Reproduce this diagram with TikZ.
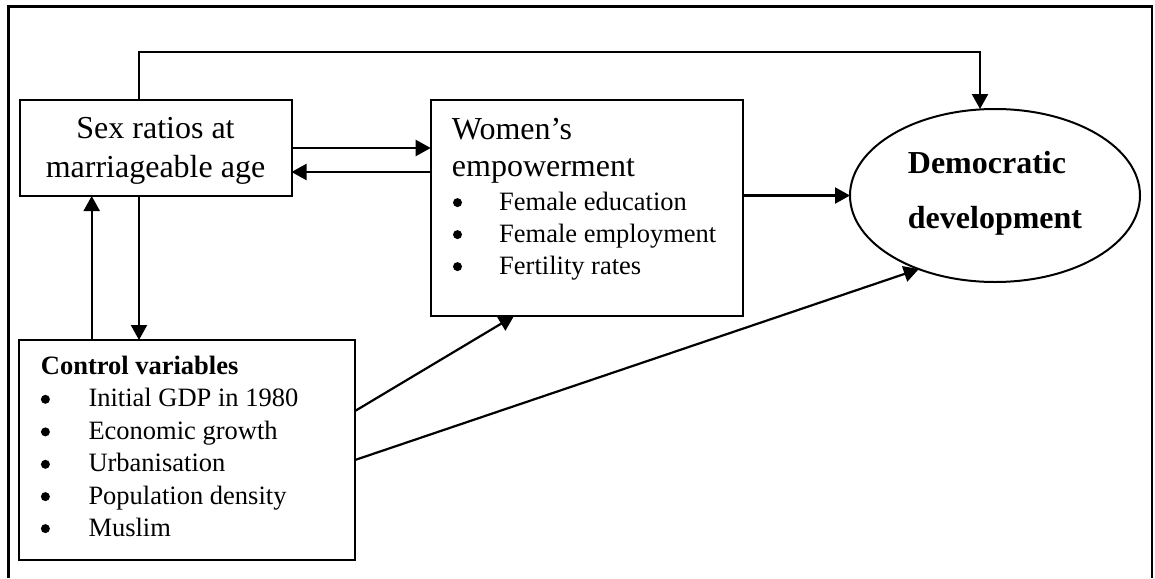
\documentclass[tikz,border=0pt]{standalone}
\usepackage{fontspec}
\setmainfont{Liberation Serif}
\usetikzlibrary{arrows.meta,shapes.geometric}

\begin{document}
\begin{tikzpicture}[x=1pt,y=-1pt,
   box/.style={draw,line width=2pt,inner sep=0pt,outer sep=0pt},
   arr/.style={-{Triangle[length=15pt,width=16pt]},line width=2.2pt},
   dot/.style={circle,fill,inner sep=0pt,minimum size=9pt},
   big/.style={inner sep=0pt,font=\fontsize{32}{38}\selectfont},
   small/.style={inner sep=0pt,anchor=base west,font=\fontsize{26.5}{32}\selectfont}]
   \useasboundingbox (0,0) rectangle (1155,578);
   % outer frame, open at the bottom
   \draw[line width=2.3pt] (8.5,578) |- (1152,6.5) -- (1152,578);

   % boxes
   \node[box,minimum width=272pt,minimum height=96pt] (sex_ratio) at (155.5,148) {};
   \node[box,minimum width=312pt,minimum height=216pt] (women) at (586.7,208) {};
   \node[box,minimum width=336pt,minimum height=220pt] (controls) at (187,450) {};
   \node[box,ellipse,minimum width=290pt,minimum height=173pt] (democ) at (995,195.5) {};

   % texts
   \node[big,anchor=base] (sex_1) at (155.5,138.3) {Sex ratios at};
   \node[big,anchor=base] (sex_2) at (155.5,177.3) {marriageable age};

   \node[big,anchor=base west] (women_1) at (451.7,139) {Women’s};
   \node[big,anchor=base west] (women_2) at (451.7,176.7) {empowerment};
   \node[dot] (w_b1) at (457.5,202.6) {};
   \node[small] (w_t1) at (499,210) {Female education};
   \node[dot] (w_b2) at (457.5,234.6) {};
   \node[small] (w_t2) at (499,242) {Female employment};
   \node[dot] (w_b3) at (457.5,266.6) {};
   \node[small] (w_t3) at (499,274) {Fertility rates};

   \node[big,anchor=base west,font=\fontsize{32}{38}\selectfont\bfseries] (dem_1) at (907.7,173) {Democratic};
   \node[big,anchor=base west,font=\fontsize{32}{38}\selectfont\bfseries] (dem_2) at (907.7,228) {development};

   \node[small,font=\fontsize{26.5}{32}\selectfont\bfseries] (ctrl_head) at (40.7,374.3) {Control variables};
   \node[dot] (c_b1) at (45.4,399.3) {};
   \node[small] (c_t1) at (88.3,406.7) {Initial GDP in 1980};
   \node[dot] (c_b2) at (45.4,431.9) {};
   \node[small] (c_t2) at (88.3,439.3) {Economic growth};
   \node[dot] (c_b3) at (45.4,464.3) {};
   \node[small] (c_t3) at (88.3,471.7) {Urbanisation};
   \node[dot] (c_b4) at (45.4,496.6) {};
   \node[small] (c_t4) at (88.3,504) {Population density};
   \node[dot] (c_b5) at (45.4,528.6) {};
   \node[small] (c_t5) at (88.3,536) {Muslim};

   % helper points
   \coordinate (top_r) at (980,52);
   \coordinate (back_y) at (0,172);
   \coordinate (up_x) at (91.7,0);
   \coordinate (down_x) at (139,0);

   % arrows
   \draw[arr] ([xshift=-16.5pt]sex_ratio.north) |- (top_r) -- (top_r |- democ.north);
   \draw[arr] (sex_ratio.east) -- (sex_ratio.east -| women.west);
   \draw[arr] (women.west |- back_y) -- (sex_ratio.east |- back_y);
   \draw[arr] (women.east |- democ.west) -- (democ.west);
   \draw[arr] (controls.north -| up_x) -- (sex_ratio.south -| up_x);
   \draw[arr] (sex_ratio.south -| down_x) -- (controls.north -| down_x);
   \draw[arr] ([yshift=39pt]controls.east) -- ([xshift=-72.7pt]women.south);
   \draw[arr] ([yshift=-10pt]controls.east) -- (democ.224);
\end{tikzpicture}
\end{document}
